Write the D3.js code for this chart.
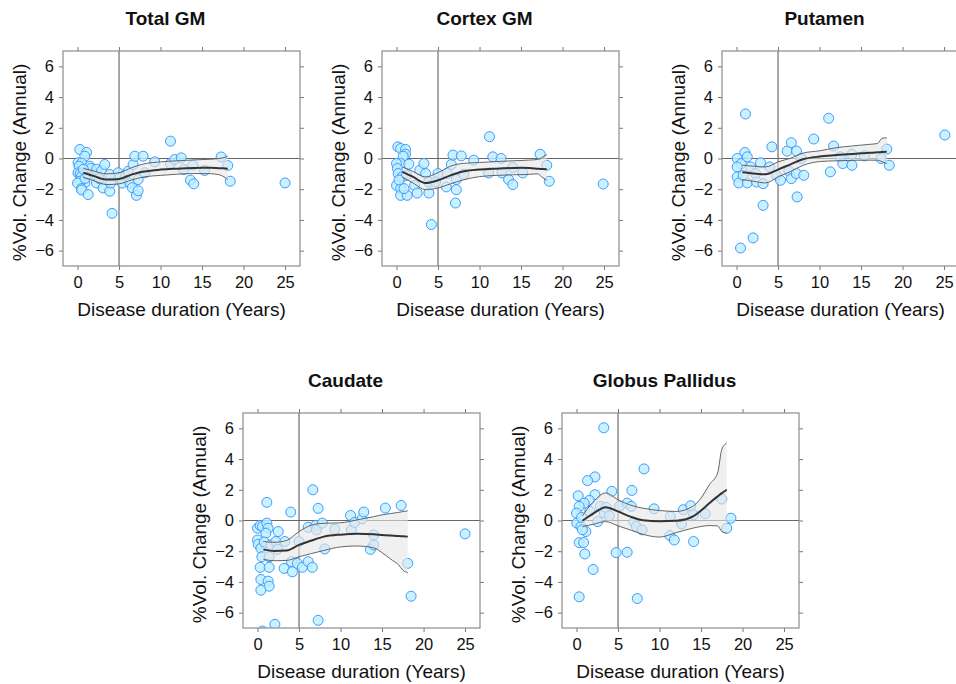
<!DOCTYPE html>
<html>
<head>
<meta charset="utf-8">
<script src="https://cdn.jsdelivr.net/npm/d3@7"></script>
<style>
  body { margin: 0; background: #fff; }
  text { font-family: "Liberation Sans", Arial, sans-serif; }
</style>
</head>
<body>
<div id="chart"></div>
<script>
// x = disease duration (years), y = % volume change (annual)
var totalGmPts = [
  [0.28,0.59],[1.08,0.4],[0.88,0.15],[0.07,-0.28],[0.48,-0.3],[1.48,-0.5],[0.2,-0.5],
  [0.05,-0.94],[0.3,-1.0],[0.48,-1.15],[0.88,-1.59],[0.28,-1.48],[0.0,-1.6],[0.48,-1.96],
  [0.5,-2.05],[1.28,-2.35],[0.9,-1.3],[1.2,-1.0],[1.6,-0.65],[0.7,-0.7],[2.28,-1.59],
  [2.08,-1.04],[2.3,-0.7],[2.9,-0.8],[3.28,-0.39],[3.08,-1.92],[3.88,-1.04],[3.88,-2.13],
  [2.6,-1.3],[4.16,-3.57],[4.0,-1.6],[4.9,-0.93],[5.1,-1.26],[5.4,-1.6],[5.8,-1.04],
  [6.1,-0.83],[6.3,-1.6],[6.6,-1.9],[6.7,-0.4],[6.9,0.15],[7.1,-2.4],[7.3,-2.1],
  [7.3,-1.37],[7.9,0.15],[8.1,-0.93],[9.3,-0.22],[11.2,1.13],[11.2,-0.33],[11.7,-0.07],
  [12.5,0.04],[12.8,-0.72],[13.6,-1.41],[14.0,-1.65],[13.9,-0.43],[15.3,-0.78],
  [17.3,0.1],[18.1,-0.46],[18.4,-1.48],[25.0,-1.59]
];
var cortexGmPts = [
  [0.16,0.76],[0.5,0.65],[1.08,0.59],[1.08,0.28],[0.8,0.15],[0.5,-0.33],[0.0,-0.33],
  [0.1,-0.65],[1.48,-0.37],[0.2,-0.98],[0.68,-1.2],[0.0,-1.75],[0.5,-1.96],[0.5,-2.4],
  [1.28,-2.4],[0.9,-1.96],[1.2,-1.1],[0.3,-1.4],[2.17,-1.75],[2.49,-2.25],[2.8,-0.76],
  [3.3,-0.33],[3.5,-0.98],[3.9,-1.53],[3.9,-2.25],[4.2,-4.3],[5.0,-0.98],[4.7,-1.53],
  [6.1,-0.98],[6.0,-1.85],[6.6,-0.39],[6.8,0.22],[7.2,-2.03],[7.1,-2.9],[7.2,-1.37],
  [7.8,0.17],[8.1,-1.03],[9.3,-0.11],[11.2,1.42],[11.1,-0.94],[11.6,0.11],[12.6,0.0],
  [12.7,-0.94],[13.5,-1.37],[14.0,-1.7],[14.0,-0.59],[15.2,-0.94],[17.3,0.28],
  [18.1,-0.44],[18.4,-1.48],[24.9,-1.66]
];
var putamenPts = [
  [1.08,2.9],[1.0,0.39],[0.08,0.0],[0.56,-0.33],[0.08,-0.55],[0.08,-1.2],[0.28,-1.59],
  [1.29,-1.59],[0.8,-1.09],[1.29,0.11],[1.69,-0.55],[2.89,-0.28],[2.29,-0.98],
  [2.41,-1.53],[3.2,-1.64],[3.2,-3.05],[2.0,-5.17],[0.48,-5.83],[4.0,-0.55],[4.26,0.76],
  [4.82,-1.09],[5.3,-1.42],[6.1,0.48],[6.6,1.03],[7.23,0.48],[6.3,-0.81],[6.6,-1.31],
  [7.2,-0.98],[7.3,-2.5],[7.8,0.0],[8.1,-1.09],[9.3,1.27],[11.1,2.62],[11.3,-0.87],
  [11.7,0.81],[12.5,0.11],[12.8,-0.33],[13.9,0.28],[13.9,-0.44],[15.4,0.17],
  [17.4,0.0],[18.1,0.61],[18.4,-0.44],[25.1,1.53]
];
var caudatePts = [
  [1.12,1.18],[0.0,-0.5],[0.32,-0.33],[0.6,-0.39],[1.12,-0.17],[1.28,-0.5],[1.0,-0.83],
  [0.0,-1.27],[0.08,-1.55],[0.4,-1.81],[0.8,-1.4],[0.52,-2.36],[1.4,-2.36],[1.6,-1.59],
  [2.2,-1.37],[2.49,-0.72],[2.4,-1.88],[3.3,-1.37],[3.2,-3.12],[0.32,-3.05],[1.4,-3.05],
  [0.4,-3.84],[1.28,-3.95],[1.4,-4.28],[0.4,-4.54],[2.09,-6.76],[0.6,-7.2],[4.0,0.55],
  [4.2,-3.34],[4.1,-2.68],[5.0,-1.37],[4.8,-2.79],[5.4,-3.05],[6.1,-2.68],[6.6,-3.05],
  [6.1,-0.44],[6.66,2.0],[7.0,-0.33],[7.1,-0.61],[7.3,0.79],[7.3,-6.5],[7.8,-0.17],
  [8.1,-1.85],[9.3,-0.57],[11.2,0.33],[11.3,-0.61],[11.7,-0.13],[12.6,0.11],[12.8,0.55],
  [13.6,-1.88],[14.0,-1.59],[14.0,-0.94],[15.4,0.81],[17.3,0.98],[18.1,-2.79],
  [18.5,-4.93],[25.0,-0.87]
];
var pallidusPts = [
  [3.28,6.04],[2.22,2.84],[1.33,2.6],[0.2,1.61],[2.22,1.68],[4.25,1.9],[6.67,1.96],
  [8.13,3.36],[1.54,1.31],[0.93,1.13],[0.32,0.92],[0.0,0.48],[0.04,-0.17],[0.53,-0.39],
  [1.13,-0.72],[0.32,-1.44],[0.85,-1.44],[1.0,-2.18],[2.0,-3.19],[0.32,-4.97],
  [2.55,-0.07],[2.87,0.92],[3.36,0.48],[3.56,0.85],[3.96,0.31],[5.18,0.92],[6.1,1.13],
  [6.6,0.92],[6.92,-0.11],[7.2,-0.39],[7.9,-0.61],[4.77,-2.09],[6.1,-2.07],[7.32,-5.08],
  [9.34,0.76],[11.3,0.26],[11.25,-0.98],[11.77,-1.27],[12.66,-0.22],[12.86,0.7],
  [13.75,0.96],[14.1,0.37],[14.1,-1.37],[15.5,0.44],[17.5,1.4],[18.1,-0.5],[18.6,0.15],
  [0.6,0.2],[1.6,0.6],[0.7,-0.6]
];

// smoother: x grid, fitted value and confidence band
var fitX = [0.7, 2, 3.5, 5, 6.5, 8, 10, 12, 14, 15, 16, 17, 17.5, 18.1];

var totalGmFit = [-0.93,-1.15,-1.37,-1.33,-1.05,-0.85,-0.72,-0.66,-0.62,-0.61,-0.61,-0.63,-0.64,-0.66];
var totalGmHi  = [-0.65,-0.82,-1.0,-0.93,-0.6,-0.35,-0.22,-0.15,-0.09,-0.07,-0.05,0.0,0.04,0.15];
var totalGmLo  = [-1.22,-1.45,-1.7,-1.65,-1.4,-1.2,-1.1,-1.02,-0.98,-0.98,-0.99,-1.05,-1.15,-1.37];

var cortexGmFit = [-0.87,-1.2,-1.6,-1.42,-1.1,-0.85,-0.72,-0.66,-0.62,-0.61,-0.62,-0.66,-0.68,-0.7];
var cortexGmHi  = [-0.55,-0.85,-1.2,-0.92,-0.5,-0.32,-0.26,-0.2,-0.15,-0.13,-0.1,-0.06,0.05,0.26];
var cortexGmLo  = [-1.2,-1.6,-2.03,-1.92,-1.65,-1.4,-1.18,-1.1,-1.06,-1.05,-1.03,-1.0,-1.2,-1.42];

var putamenFit = [-0.9,-0.97,-1.03,-0.72,-0.38,-0.05,0.13,0.22,0.3,0.34,0.37,0.4,0.42,0.44];
var putamenHi  = [-0.44,-0.5,-0.55,-0.22,0.02,0.35,0.5,0.7,0.82,0.87,0.92,0.98,1.31,1.35];
var putamenLo  = [-1.37,-1.48,-1.59,-1.2,-0.85,-0.45,-0.2,-0.15,-0.12,-0.11,-0.11,-0.11,-0.2,-0.33];

var caudateFit = [-1.88,-1.98,-1.95,-1.59,-1.3,-1.05,-0.92,-0.87,-0.9,-0.94,-0.98,-1.01,-1.03,-1.05];
var caudateHi  = [-1.37,-1.42,-1.3,-0.72,-0.3,-0.18,-0.15,0.04,0.25,0.37,0.45,0.53,0.58,0.63];
var caudateLo  = [-2.53,-2.62,-2.6,-2.36,-2.15,-1.95,-1.72,-1.66,-1.78,-2.09,-2.5,-2.9,-3.23,-3.4];

var pallidusFit = [-0.02,0.45,0.87,0.59,0.25,0.02,-0.05,-0.02,0.26,0.65,1.13,1.57,1.78,2.0];
var pallidusHi  = [0.3,1.2,1.79,1.35,1.0,0.8,0.65,0.59,0.92,1.46,2.33,3.1,4.63,5.06];
var pallidusLo  = [-0.39,-0.25,-0.07,-0.35,-0.62,-0.9,-1.08,-0.79,-0.5,-0.39,-0.33,-0.35,-0.72,-0.83];

var xTicks = [0, 5, 10, 15, 20, 25];
var yTicks = [-6, -4, -2, 0, 2, 4, 6];

var panels = [
  {title: "Total GM",        pts: totalGmPts,  fit: totalGmFit,  hi: totalGmHi,  lo: totalGmLo,  left: 63,  top: 51},
  {title: "Cortex GM",       pts: cortexGmPts, fit: cortexGmFit, hi: cortexGmHi, lo: cortexGmLo, left: 382, top: 51},
  {title: "Putamen",         pts: putamenPts,  fit: putamenFit,  hi: putamenHi,  lo: putamenLo,  left: 722, top: 51},
  {title: "Caudate",         pts: caudatePts,  fit: caudateFit,  hi: caudateHi,  lo: caudateLo,  left: 243, top: 413},
  {title: "Globus Pallidus", pts: pallidusPts, fit: pallidusFit, hi: pallidusHi, lo: pallidusLo, left: 562, top: 413}
];

var boxW = 237, boxH = 215;

var svg = d3.select("#chart").append("svg")
  .attr("width", 956)
  .attr("height", 684);

var x = d3.scaleLinear().domain([-1.75, 26.8]).range([0, boxW]);
var y = d3.scaleLinear().domain([-7, 7]).range([boxH, 0]);

panels.forEach(function (p, i) {
  var g = svg.append("g").attr("transform", "translate(" + p.left + "," + p.top + ")");

  g.append("clipPath").attr("id", "clip" + i)
    .append("rect").attr("width", boxW).attr("height", boxH);

  var plot = g.append("g").attr("clip-path", "url(#clip" + i + ")");

  plot.append("line")
    .attr("x1", x(5)).attr("x2", x(5)).attr("y1", 0).attr("y2", boxH)
    .style("stroke", "#8a8a8a").style("stroke-width", 1.5);
  plot.append("line")
    .attr("x1", 0).attr("x2", boxW).attr("y1", y(0)).attr("y2", y(0))
    .style("stroke", "#666").style("stroke-width", 1);

  plot.selectAll("circle.pt")
    .data(p.pts)
    .enter().append("circle")
      .attr("class", "pt")
      .attr("cx", function (d) { return x(d[0]); })
      .attr("cy", function (d) { return y(d[1]); })
      .attr("r", 5)
      .attr("fill", "#bdeeff")
      .attr("fill-opacity", 0.8)
      .attr("stroke", "#3d9bff")
      .attr("stroke-width", 1);

  var band = fitX.map(function (v, k) { return {x: v, fit: p.fit[k], hi: p.hi[k], lo: p.lo[k]}; });

  plot.append("path")
    .datum(band)
    .attr("d", d3.area()
      .curve(d3.curveMonotoneX)
      .x(function (d) { return x(d.x); })
      .y0(function (d) { return y(d.lo); })
      .y1(function (d) { return y(d.hi); }))
    .attr("fill", "#e6e6e6")
    .attr("fill-opacity", 0.6);

  ["hi", "lo"].forEach(function (key) {
    plot.append("path")
      .datum(band)
      .attr("d", d3.line()
        .curve(d3.curveMonotoneX)
        .x(function (d) { return x(d.x); })
        .y(function (d) { return y(d[key]); }))
      .attr("fill", "none")
      .attr("stroke", "#555")
      .attr("stroke-width", 0.9);
  });

  plot.append("path")
    .datum(band)
    .attr("d", d3.line()
      .curve(d3.curveMonotoneX)
      .x(function (d) { return x(d.x); })
      .y(function (d) { return y(d.fit); }))
    .attr("fill", "none")
    .attr("stroke", "#333")
    .attr("stroke-width", 2);

  // axes on all four sides, labels left and bottom
  var axL = g.append("g").call(d3.axisLeft(y).tickValues(yTicks).tickSize(4).tickPadding(5));
  var axR = g.append("g").attr("transform", "translate(" + boxW + ",0)")
    .call(d3.axisRight(y).tickValues(yTicks).tickSize(4).tickFormat(""));
  var axT = g.append("g").call(d3.axisTop(x).tickValues(xTicks).tickSize(4).tickFormat(""));
  var axB = g.append("g").attr("transform", "translate(0," + boxH + ")")
    .call(d3.axisBottom(x).tickValues(xTicks).tickSize(4).tickPadding(6));

  [axL, axR, axT, axB].forEach(function (a) {
    a.select(".domain").remove();
    a.selectAll(".tick line").attr("stroke", "#777");
    a.selectAll(".tick text")
      .attr("fill", "#111")
      .style("font-family", "'Liberation Sans', Arial, sans-serif")
      .style("font-size", "16.5px");
  });

  g.append("rect")
    .attr("width", boxW).attr("height", boxH)
    .attr("fill", "none")
    .attr("stroke", "#8c8c8c")
    .attr("stroke-width", 1.2);

  g.append("text")
    .text(p.title)
    .attr("x", boxW / 2 - 16)
    .attr("y", -26)
    .attr("text-anchor", "middle")
    .style("font-size", "19px")
    .style("font-weight", "bold")
    .attr("fill", "#111");

  g.append("text")
    .text("Disease duration (Years)")
    .attr("x", boxW / 2)
    .attr("y", boxH + 50)
    .attr("text-anchor", "middle")
    .style("font-size", "19px")
    .attr("fill", "#111");

  g.append("text")
    .text("%Vol. Change (Annual)")
    .attr("transform", "translate(-37," + (boxH / 2 + 4) + ") rotate(-90)")
    .attr("text-anchor", "middle")
    .style("font-size", "19px")
    .attr("fill", "#111");
});
</script>
</body>
</html>
